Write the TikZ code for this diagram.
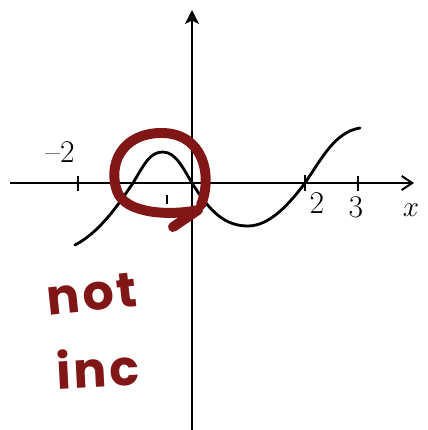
\documentclass[tikz,border=0pt]{standalone}
\usepackage{fontspec}
\newfontfamily\handfont[LetterSpace=6]{Poppins}
\usetikzlibrary{positioning, arrows.meta}
\definecolor{marker}{RGB}{128,22,22}
\tikzset{
  axis/.style={draw=black, line width=1.7pt},
  graph/.style={draw=black, line width=2.4pt, line cap=round},
  pen/.style={draw=marker, line width=8.5pt, line cap=round, line join=round},
  ticklabel/.style={font=\fontsize{27}{29}\selectfont, inner sep=0pt},
  scrawl/.style={marker, font=\handfont\bfseries\fontsize{42}{44}\selectfont, inner sep=0pt}
}
\begin{document}
\begin{tikzpicture}[x=0.03cm, y=-0.03cm]
\useasboundingbox (0,0) rectangle (427,430);
\coordinate (xl) at (10,183);
\coordinate (xr) at (414,183);
\coordinate (yb) at (192,430);
\coordinate (yt) at (192,10);
\draw [axis, -{Straight Barb[length=9pt, width=12pt, line width=1.7pt]}] (xl) -- (xr);
\draw [axis, -{Stealth[length=12pt, width=12pt, inset=3pt]}] (yb) -- (yt);
\draw [axis] (78,176) -- (78,191);
\draw [axis] (305,175) -- (305,191);
\draw [axis] (358,176) -- (358,191);
\draw [axis] (167,195) -- (167,204);
\node [ticklabel] at (60,152) (m2) {--2};
\node [ticklabel] at (317,203) (p2) {2};
\node [ticklabel] at (356,207) (p3) {3};
\node [ticklabel] at (411,210) (xx) {$x$};
\draw [graph] (75,245) .. controls (100,232) and (118,205) .. (133,183)
  .. controls (145,163) and (150,152) .. (163,152)
  .. controls (176,152) and (184,170) .. (192,183)
  .. controls (210,212) and (225,226) .. (248,226)
  .. controls (270,226) and (290,203) .. (305,183)
  .. controls (322,158) and (335,132) .. (360,128);
\draw [pen] (201,205) .. controls (213,175) and (203,132) .. (160,133)
  .. controls (121,134) and (108,165) .. (117,191)
  .. controls (125,214) and (170,216) .. (198,210)
  -- (173,227);
\node [scrawl, rotate=6] at (92,294) (no) {not};
\node [scrawl, rotate=3] at (98,368) (in) {inc};
\end{tikzpicture}
\end{document}
